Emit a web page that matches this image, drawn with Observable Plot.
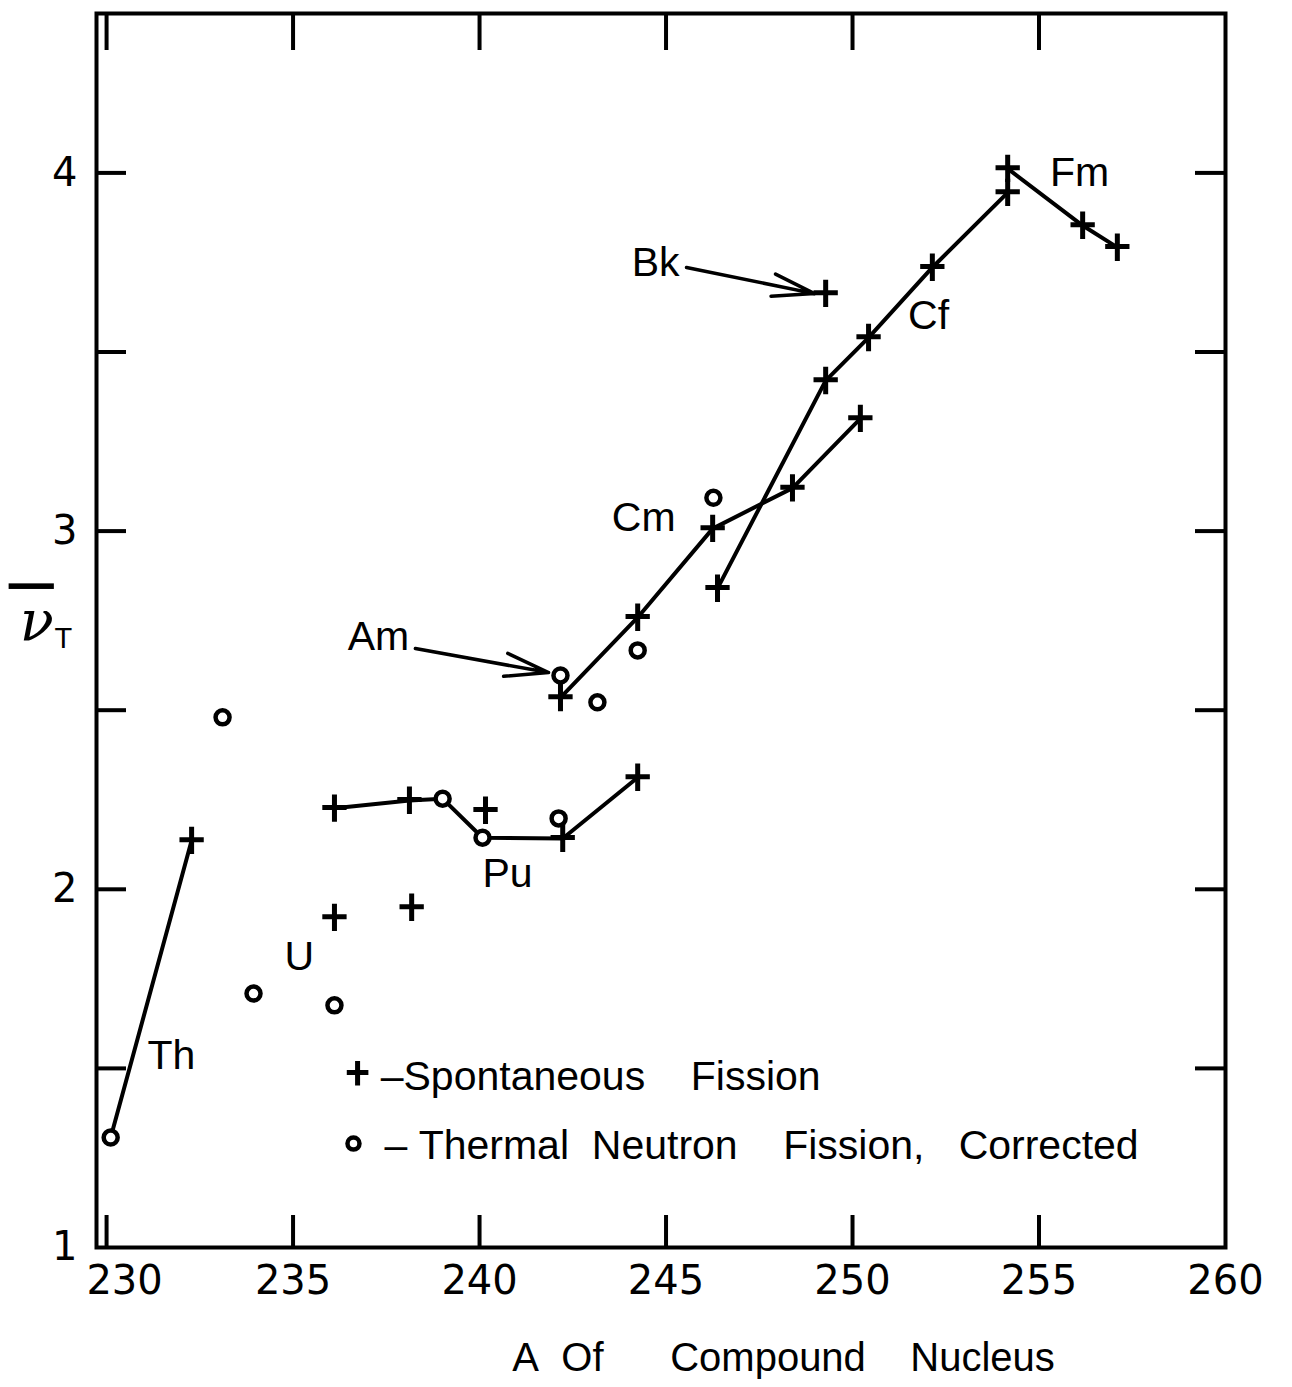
<!DOCTYPE html>
<html>
<head>
<meta charset="utf-8">
<script src="https://cdn.jsdelivr.net/npm/d3@7"></script>
<script src="https://cdn.jsdelivr.net/npm/@observablehq/plot@0.6"></script>
<style>
  html, body { margin: 0; padding: 0; background: #fff; }
  #chart svg { display: block; }
</style>
</head>
<body>
<div id="chart"></div>
<script>
// ---------- data ----------
// Spontaneous fission points (+)
const sfGroup = ["Th", "U", "U", "Pu", "Pu", "Pu", "Pu", "Pu", "Am", "Cm", "Cm", "Cm", "Cm", "Bk", "Cf", "Cf", "Cf", "Cf", "Cf", "Fm", "Fm", "Fm"];
const sfA     = [232.28, 236.11, 238.18, 236.11, 238.12, 240.16, 242.23, 244.24, 242.17, 244.24, 246.25, 248.39, 250.21, 249.28, 246.38, 249.28, 250.43, 252.14, 254.16, 254.16, 256.17, 257.10];
const sfNu    = [2.136, 1.921, 1.949, 2.226, 2.248, 2.220, 2.142, 2.312, 2.535, 2.759, 3.007, 3.120, 3.314, 3.663, 2.840, 3.420, 3.540, 3.736, 3.945, 4.012, 3.853, 3.792];

// Thermal neutron fission, corrected (o)
const tnGroup = ["Th", "U", "U", "U", "Pu", "Pu", "Pu", "Am", "Am", "Cm", "Cm"];
const tnA     = [230.11, 233.11, 233.94, 236.11, 239.01, 240.08, 242.12, 242.17, 243.16, 244.24, 246.27];
const tnNu    = [1.307, 2.480, 1.709, 1.676, 2.253, 2.144, 2.198, 2.597, 2.522, 2.667, 3.093];

// Connected curves (points in drawing order)
const curveGroup = ["Th", "Th", "Pu", "Pu", "Pu", "Pu", "Pu", "Pu", "Cm", "Cm", "Cm", "Cm", "Cm", "Cf", "Cf", "Cf", "Cf", "Cf", "Fm", "Fm", "Fm"];
const curveA     = [230.11, 232.28, 236.11, 238.12, 239.01, 240.08, 242.23, 244.24, 242.17, 244.24, 246.25, 248.39, 250.21, 246.38, 249.28, 250.43, 252.14, 254.16, 254.16, 256.17, 257.10];
const curveNu    = [1.307, 2.136, 2.226, 2.248, 2.253, 2.144, 2.142, 2.312, 2.535, 2.759, 3.007, 3.120, 3.314, 2.840, 3.420, 3.540, 3.736, 3.945, 4.012, 3.853, 3.792];

// Element labels (annotation positions in data units)
const labelText = ["Th", "U", "Pu", "Am", "Cm", "Bk", "Cf", "Fm"];
const labelA    = [231.74, 235.17, 240.75, 237.29, 244.40, 244.72, 252.04, 256.09];
const labelNu   = [1.536, 1.810, 2.044, 2.706, 3.038, 3.750, 3.602, 4.001];

// Pointer arrows (Am, Bk)
const arrowName = ["Am", "Bk"];
const arrowA1 = [238.28, 245.55];
const arrowNu1 = [2.672, 3.736];
const arrowA2 = [241.85, 248.98];
const arrowNu2 = [2.605, 3.663];

// Axis ticks
const xTickLabels = [230, 235, 240, 245, 250, 255, 260];
const xTickMarks = [230, 235, 240, 245, 250, 255];
const yTickLabels = [1, 2, 3, 4];
const yTickMarks = [1.5, 2, 2.5, 3, 3.5, 4];

// Legend entries
const legendText = ["\u2013Spontaneous\u00a0\u00a0\u00a0\u00a0Fission", "\u2013\u00a0Thermal\u00a0\u00a0Neutron\u00a0\u00a0\u00a0\u00a0Fission,\u00a0\u00a0\u00a0Corrected"];
const xTitle = "A\u00a0\u00a0Of\u00a0\u00a0\u00a0\u00a0\u00a0\u00a0Compound\u00a0\u00a0\u00a0\u00a0Nucleus";
const yTitleSymbol = "\u2009\u03BD";
const yTitleSub = "T";

// ---------- build tables ----------
const sf = sfA.map((a, i) => ({A: a, nu: sfNu[i], group: sfGroup[i]}));
const tn = tnA.map((a, i) => ({A: a, nu: tnNu[i], group: tnGroup[i]}));
const curves = curveA.map((a, i) => ({A: a, nu: curveNu[i], group: curveGroup[i]}));
const labels = labelText.map((t, i) => ({text: t, A: labelA[i], nu: labelNu[i]}));
const arrows = arrowName.map((n, i) => ({name: n, x1: arrowA1[i], y1: arrowNu1[i], x2: arrowA2[i], y2: arrowNu2[i]}));
const legendSym = [{kind: "sf", A: 236.73, nu: 1.486}, {kind: "tn", A: 236.62, nu: 1.290}];
const legendLines = [
  {text: legendText[0], A: 237.35, nu: 1.475},
  {text: legendText[1], A: 237.45, nu: 1.285}
];

const crossSymbol = {
  draw(ctx, size) {
    const r = Math.sqrt(size / Math.PI);
    ctx.moveTo(-r * 1.35, -r * 0.1);
    ctx.lineTo(r * 1.35, -r * 0.1);
    ctx.moveTo(0, -r * 1.55);
    ctx.lineTo(0, r * 1.5);
  }
};

const frameW = 1292 - 96 - 67;
const frameH = 1387 - 13 - 140;
const FONT = "'Liberation Sans', Arial, sans-serif";
const DIGITS = "'DejaVu Sans', sans-serif";

const chart = Plot.plot({
  width: 1292,
  height: 1387,
  marginLeft: 96,
  marginRight: 67,
  marginTop: 13,
  marginBottom: 140,
  style: {background: "white", fontFamily: FONT, color: "black"},
  x: {domain: [229.73, 260], axis: null},
  y: {domain: [1, 4.445], axis: null},
  marks: [
    Plot.frame({stroke: "black", strokeWidth: 4}),
    // inward ticks
    Plot.tickX(xTickMarks, {x: d => d, insetTop: frameH - 32, stroke: "black", strokeWidth: 4}),
    Plot.tickX(xTickMarks, {x: d => d, insetBottom: frameH - 37, stroke: "black", strokeWidth: 4}),
    Plot.tickY(yTickMarks, {y: d => d, insetRight: frameW - 30, stroke: "black", strokeWidth: 4}),
    Plot.tickY(yTickMarks, {y: d => d, insetLeft: frameW - 30, stroke: "black", strokeWidth: 4}),
    // tick labels (the first one sits a little right of its tick, clear of the frame)
    Plot.text(xTickLabels.slice(0, 1), {x: d => d, frameAnchor: "bottom", lineAnchor: "middle", dy: 34, dx: 18, text: d => String(d), fontSize: 40, fontFamily: DIGITS, fill: "black"}),
    Plot.text(xTickLabels.slice(1), {x: d => d, frameAnchor: "bottom", lineAnchor: "middle", dy: 34, text: d => String(d), fontSize: 40, fontFamily: DIGITS, fill: "black"}),
    Plot.text(yTickLabels, {y: d => d, frameAnchor: "left", dx: -19, textAnchor: "end", lineAnchor: "middle", text: d => String(d), fontSize: 40, fontFamily: DIGITS, fill: "black"}),
    // curves
    Plot.line(curves, {x: "A", y: "nu", z: "group", stroke: "black", strokeWidth: 4}),
    // arrows
    Plot.arrow(arrows, {x1: "x1", y1: "y1", x2: "x2", y2: "y2", stroke: "black", strokeWidth: 3.5, headAngle: 30, headLength: 34}),
    // points
    Plot.dot(tn, {x: "A", y: "nu", r: 7, stroke: "black", strokeWidth: 4.5, fill: "white"}),
    Plot.dot(sf, {x: "A", y: "nu", r: 9, symbol: crossSymbol, stroke: "black", strokeWidth: 5, fill: "none"}),
    // element labels
    Plot.text(labels, {x: "A", y: "nu", text: "text", fontSize: 41, fill: "black"}),
    // legend
    Plot.dot(legendSym.filter(d => d.kind === "sf"), {x: "A", y: "nu", r: 8, symbol: crossSymbol, stroke: "black", strokeWidth: 5, fill: "none"}),
    Plot.dot(legendSym.filter(d => d.kind === "tn"), {x: "A", y: "nu", r: 6, stroke: "black", strokeWidth: 4.5, fill: "white"}),
    Plot.text(legendLines, {x: "A", y: "nu", text: "text", textAnchor: "start", fontSize: 41, fill: "black"}),
    // axis titles
    Plot.text([xTitle], {x: [240.88], y: [0.69], text: d => d, textAnchor: "start", fontSize: 40, fill: "black"}),
    Plot.text([yTitleSymbol], {x: [227.98], y: [2.745], text: d => d, fontSize: 56, fontStyle: "italic", fontFamily: "'DejaVu Serif', serif", fill: "black"}),
    Plot.text([yTitleSub], {x: [228.84], y: [2.700], text: d => d, fontSize: 29, fill: "black"})
  ]
});
// overline (bar) over the nu symbol
d3.select(chart).selectAll("text")
  .filter(function () { return this.textContent === yTitleSymbol; })
  .style("text-decoration", "overline")
  .style("text-decoration-thickness", "2.5px");
document.getElementById("chart").append(chart);
</script>
</body>
</html>
